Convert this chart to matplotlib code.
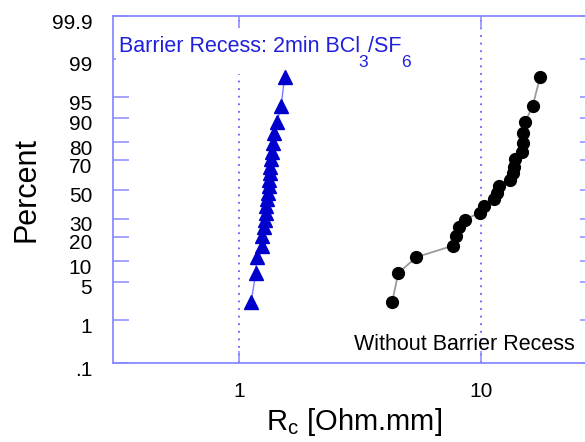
import numpy as np
import matplotlib
matplotlib.use("Agg")
import matplotlib.pyplot as plt
import matplotlib.transforms as mtransforms
from matplotlib.patches import Rectangle
from statistics import NormalDist

plt.rcParams['font.family'] = ['Liberation Sans', 'DejaVu Sans']
plt.rcParams['mathtext.fontset'] = 'custom'
plt.rcParams['mathtext.rm'] = 'Liberation Sans'
plt.rcParams['mathtext.it'] = 'Liberation Sans:italic'
plt.rcParams['mathtext.default'] = 'regular'

# cumulative percent for each sorted sample (22 devices per wafer)
percent = [2.3, 6.8, 11.4, 15.9, 20.5, 25.0, 29.5, 34.1, 38.6, 43.2, 47.7,
           52.3, 56.8, 61.4, 65.9, 70.5, 75.0, 79.5, 84.1, 88.6, 93.2, 97.7]

# contact resistance, Ohm.mm
rc_recess = [1.12, 1.17, 1.18, 1.24, 1.245, 1.265, 1.28, 1.29, 1.295, 1.30, 1.32,
             1.325, 1.33, 1.34, 1.345, 1.355, 1.365, 1.38, 1.39, 1.435, 1.49, 1.54]
rc_no_recess = [4.3, 4.55, 5.4, 7.7, 7.9, 8.1, 8.6, 9.9, 10.3, 11.3, 11.7,
                11.9, 13.2, 13.6, 13.7, 13.8, 14.8, 14.9, 15.0, 15.3, 16.4, 17.6]

y_ticks = [0.1, 1, 5, 10, 20, 30, 50, 70, 80, 90, 95, 99, 99.9]
y_ticklabels = ['.1', '1', '5', '10', '20', '30', '50', '70', '80', '90', '95', '99', '99.9']
x_ticks = [1, 10]
x_ticklabels = ['1', '10']

frame = '#8a8aff'
label_blue = '#2020dd'
nd = NormalDist()
_ppf = np.vectorize(lambda p: nd.inv_cdf(min(max(p / 100.0, 1e-9), 1 - 1e-9)),
                    otypes=[float])
_cdf = np.vectorize(lambda z: 100.0 * nd.cdf(z), otypes=[float])

fig = plt.figure(figsize=(5.85, 4.42), dpi=100)
ax = fig.add_axes([0.1932, 0.1787, 0.8256, 0.7851])

ax.set_xscale('log')
ax.set_yscale('function', functions=(_ppf, _cdf))
ax.set_xlim(0.3, 30)
ax.set_ylim(0.1, 99.9)

for xv in x_ticks:
    ax.axvline(xv, color='#6060ff', lw=1.3, ls=(0, (1, 3.2)), zorder=1)

ax.plot(rc_recess, percent, color='#7a7aff', lw=1.0, marker='^', ms=9.5,
        mfc='#0000cc', mec='#0000cc', zorder=4)
ax.plot(rc_no_recess, percent, color='#9a9a9a', lw=1.3, marker='o', ms=8.5,
        mfc='black', mec='black', zorder=4)

# white backing behind the recess label
ax.add_patch(Rectangle((0.006, 0.833), 0.55, 0.133, transform=ax.transAxes,
                       facecolor='white', edgecolor='none', zorder=2.7))

ax.text(0.957, 0.037, 'Without Barrier Recess', transform=ax.transAxes,
        color='black', fontsize=15.5, va='baseline', ha='right', zorder=3)

ax.set_yticks(y_ticks)
ax.set_yticklabels(y_ticklabels)
ax.yaxis.set_minor_locator(matplotlib.ticker.NullLocator())
ax.set_xticks(x_ticks)
ax.set_xticklabels(x_ticklabels)
ax.xaxis.set_minor_locator(matplotlib.ticker.NullLocator())

ax.tick_params(axis='y', which='major', direction='in', length=11.5, width=1.1,
               color=frame, labelsize=15, pad=15, left=True, right=True)
ax.tick_params(axis='x', which='major', direction='in', length=9, width=1.1,
               color=frame, labelsize=15, pad=14, top=True, bottom=True)

# tick labels sit a little below their ticks
shift = mtransforms.ScaledTranslation(0, -5 / 100.0, fig.dpi_scale_trans)
for lbl in ax.get_yticklabels():
    lbl.set_transform(lbl.get_transform() + shift)

for sp in ax.spines.values():
    sp.set_color(frame)
    sp.set_linewidth(1.3)

ax.set_ylabel('Percent', fontsize=22, labelpad=7)
ax.set_xlabel('R$_c$ [Ohm.mm]', fontsize=21, labelpad=3)

# recess label built piece by piece so the subscripts hang low
fig.canvas.draw()
renderer = fig.canvas.get_renderer()
base_y = 0.896
t = ax.text(0.0125, base_y, 'Barrier Recess: 2min BCl', transform=ax.transAxes,
            color=label_blue, fontsize=15.5, va='baseline', ha='left', zorder=3)
x_px = t.get_window_extent(renderer).x1
for s, dx, dy, fs in [('3', -1.0, -10.5, 12.5), ('/SF', 0, 0, 15.5), ('6', -0.5, -10.5, 12.5)]:
    xa = ax.transAxes.inverted().transform((x_px, 0))[0]
    tr = mtransforms.offset_copy(ax.transAxes, fig=fig, x=dx, y=dy, units='points')
    t = ax.text(xa, base_y, s, transform=tr, color=label_blue, fontsize=fs,
                va='baseline', ha='left', zorder=3)
    x_px = t.get_window_extent(renderer).x1

fig.savefig('out.png', dpi=100)
